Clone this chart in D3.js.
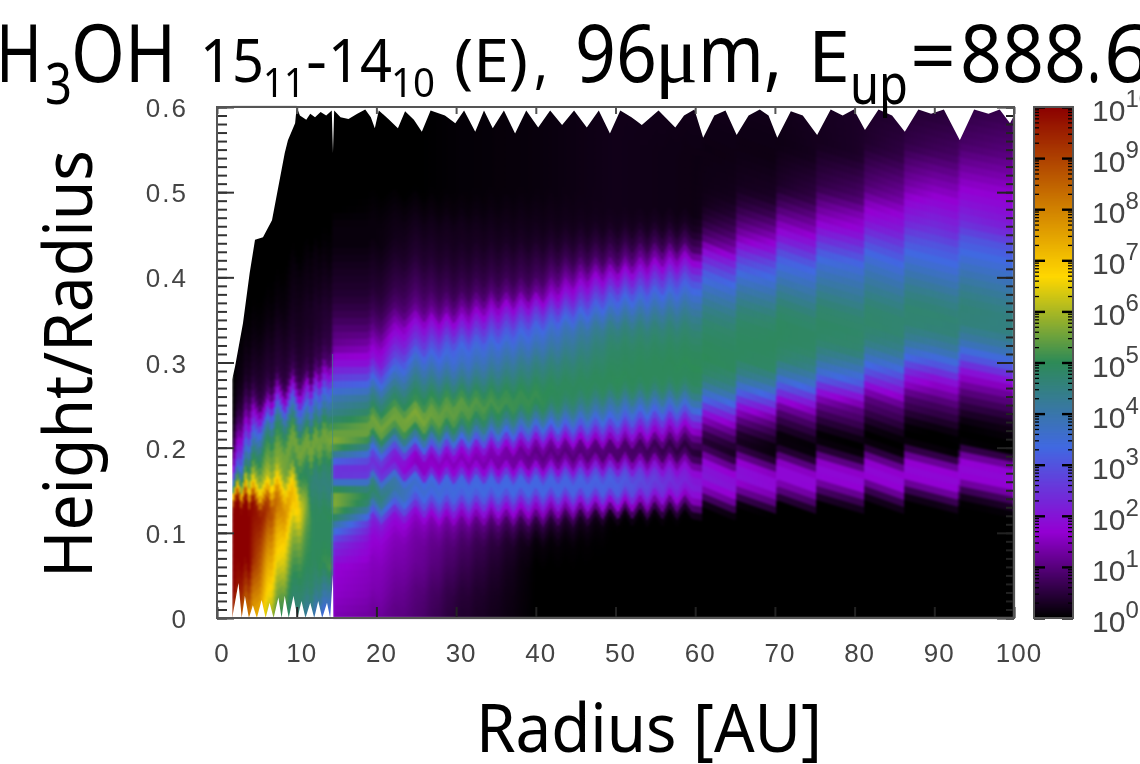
<!DOCTYPE html>
<html>
<head>
<meta charset="utf-8">
<script src="https://cdn.jsdelivr.net/npm/d3@7"></script>
<style>
  html, body { margin: 0; background: #fff; overflow: hidden; }
  #wrap { position: relative; width: 1140px; height: 764px; overflow: hidden; }
  #map, #chart { position: absolute; left: 0; top: 0; }
  #map { filter: blur(0.8px); }
  .tick-label { font-family: "Liberation Sans", sans-serif; fill: #444; }
  .big { font-family: "Noto Sans", sans-serif; fill: #000; }
</style>
</head>
<body>
<div id="wrap">
  <canvas id="map" width="1140" height="764"></canvas>
  <svg id="chart" width="1140" height="764"></svg>
</div>
<script>
// rows of every profile: height/radius
const heights = [0,.03,.06,.09,.11,.12,.13,.14,.15,.16,.17,.18,.19,.20,.21,.22,.23,.24,.25,.26,.27,.28,.30,.32,.34,.36,.38,.40,.42,.44,.46,.48,.50,.55,.60];

// log10 of the line emission at a few radii
const r2    = [9,10,10,10,10,10,9.8,8,5.2,3.6,2.2,1.4,.9,.6,.4,.2,.1,0,0,0,0,0,0,0,0,0,0,0,0,0,0,0,0,0,0];
const r4    = [8,9,10,10,10,10,9.9,8.2,6.7,5.9,5.2,4.7,4.1,3.4,2.7,2,1.5,1.1,.8,.6,.4,.3,.2,.1,.05,0,0,0,0,0,0,0,0,0,0];
const r6    = [6.5,7.2,7.8,8.6,9.2,9.4,9.1,7.8,6.7,6,5.7,5.4,5.2,4.9,4.4,3.8,2.7,1.8,1,.6,.5,.4,.3,.2,.1,.05,0,0,0,0,0,0,0,0,0];
const r8    = [5,5.6,6.4,7,7.6,7.9,8,7.6,6.9,6.3,5.8,5.6,5.6,5.3,5.1,4.8,4.4,3.4,2.4,1.5,.8,.5,.4,.3,.2,.1,.05,0,0,0,0,0,0,0,0];
const r10   = [4.6,4.8,5.2,5.8,6.5,6.8,6.9,6.5,5.9,5.4,5,5.3,5.6,5.5,5.1,4.4,3.9,3.2,2.2,1.4,.8,.6,.4,.3,.25,.2,.15,.1,0,0,0,0,0,0,0];
const r12   = [4,4.7,4.9,4.9,4.9,4.9,4.8,4.7,4.6,4.6,4.8,5.2,5.5,5.6,5.4,4.9,4.3,3.8,3.2,2.6,1.8,.8,.5,.4,.3,.3,.2,.15,.1,0,0,0,0,0,0];
const r14a  = [3,4,5.2,4.9,4.9,5,4.9,4.7,4.5,4.6,4.7,4.8,5.1,5.4,5.6,5.5,5.1,4.5,4.1,3.6,3.1,2.3,1,.6,.5,.4,.3,.2,.1,.05,0,0,0,0,0];
const r14b  = [1.4,1.6,1.7,2.5,4,5,5.6,5.8,5.4,3.7,2.3,2.6,3.8,5.2,5.7,5.4,5,4.5,4.2,3.9,3.4,2.8,1.9,1.2,.9,.6,.4,.3,.2,.1,.1,0,0,0,0];
const r20   = [1.2,1.4,1.5,1.7,2.1,3,4,4.8,4.6,3.7,2.4,2.4,3,4,5,5.6,5.5,5,4.6,4.2,3.6,3,1.9,1.4,.9,.6,.4,.3,.2,.1,.1,.05,0,0,0];
const r25   = [.9,1,1.2,1.3,1.5,1.8,2.6,3.2,3.6,3.4,2,1.3,1.9,3.3,4.2,5.2,5.7,5.6,5.1,4.9,4.6,4.3,3.6,2.6,1.9,1.1,.8,.6,.4,.3,.2,.1,0,0,0];
const r30   = [.4,.5,.7,.9,1.2,1.6,2.3,3.1,3.4,3.3,2.2,1.5,1.5,2.3,3.5,4.5,5.1,5.4,5.4,5.1,4.7,4.3,3.6,3.2,2.2,1.2,.7,.5,.35,.25,.2,.1,.05,.05,.05];
const r40   = [0,0,0,.1,.5,1.1,1.7,2.5,3.3,3.3,2.5,1.4,1,1.2,2,3,3.8,4.5,5,5.1,5,4.8,4.4,3.8,3.3,2.4,1.2,.7,.5,.3,.2,.15,.1,.1,.1];
const r50   = [0,0,0,0,0,.2,1.2,2.2,3.1,3.2,2.9,1.9,.9,.8,1.5,2.3,3,3.6,4,4.5,4.9,5,4.9,4.8,4.5,3.8,3,1.9,.9,.5,.25,.2,.2,.2,.2];
const r60   = [0,0,0,0,0,0,.3,1.2,1.8,2.1,2,1.7,.9,.4,.7,1.2,1.8,2.6,3.4,4,4.6,4.9,5,4.9,4.7,4.3,3.7,3,1.9,.8,.3,.15,.15,.15,.2];
const r70   = [0,0,0,0,0,0,0,.8,1.3,1.8,1.8,1.4,.5,.1,.1,.4,.7,1.1,1.8,2.6,3.3,4,4.8,4.9,4.9,4.7,4.2,3.6,3,2,1.3,.7,.3,.15,.2];
const r80   = [0,0,0,0,0,0,0,.4,1,1.7,1.8,1.5,.6,.1,0,.2,.5,.8,1,1.5,2.2,3,3.9,4.7,4.8,4.7,4.3,3.9,3.4,2.6,1.8,1.4,.8,.3,.3];
const r90   = [0,0,0,0,0,0,0,.3,1.1,1.7,1.8,1.6,.8,.1,0,0,.2,.5,.7,1,1.4,1.7,3,4,4.6,4.7,4.4,3.9,3.4,3,2.4,2,1.6,.7,.4];
const r100  = [0,0,0,0,0,0,.1,.5,1.2,1.7,1.8,1.7,.8,0,0,.1,.2,.4,.7,1,1.3,1.7,3,4,4.5,4.5,4.2,3.8,3.4,3,2.2,1.9,1.7,1,.6];
const profileRadii = [2,4,6,8,10,12,14.4,14.6,20,25,30,40,50,60,70,80,90,100];
const profiles = [r2,r4,r6,r8,r10,r12,r14a,r14b,r20,r25,r30,r40,r50,r60,r70,r80,r90,r100];

// the model grid is not square: each column sits a little higher or lower
const rippleRadii = [1.9,2.6,3.1,3.6,4,4.5,5.4,6.4,6.9,7.5,8.5,9.5,10.4,11.3,11.8,12.4,12.9,13.4,14,14.4,14.6,19,19.5,20.6,22.3,23.5,24.9,26,26.9,27.9,28.8,29.7,30.7,31.6,32.5,33.5,34.4,35.3,36.3,37.2,38.1,39.1,40,40.9,41.9,42.8,43.7,44.7,45.6,46.5,47.5,48.4,49.3,50.3,51.2,52.1,53.1,54,54.9,55.9,56.8,57.7,58.7,59.6,60.8,61,65,65.2,70.1,70.3,75.1,75.3,81.1,81.3,86.1,86.3,93,93.2,100];
const rippleShift = [-.004,.016,-.004,.018,-.004,.014,-.006,.014,-.004,.018,-.006,.024,-.004,.012,-.004,.014,-.004,.012,-.002,0,0,0,.012,-.004,.012,-.004,.01,-.006,.007,-.007,.007,-.007,.007,-.007,.007,-.007,.007,-.007,.007,-.007,.007,-.007,.007,-.007,.007,-.007,.007,-.007,.007,-.007,.007,-.007,.007,-.007,.007,-.007,.007,-.007,.007,-.007,.007,-.007,.006,-.006,-.008,.008,-.008,.008,-.008,.008,-.008,.008,-.008,.008,-.008,.008,-.008,.008,-.005];

// where the model stops: left edge, top jags, bottom jags
const leftR = [1.9,1.9,2.26,3.26,4.1,4.77,5.77,6.9,8.5,8.9,9.8,10];
const leftH = [0,.28,.295,.346,.405,.444,.447,.467,.546,.561,.581,.6];
const topR = [10,10.4,11.2,11.7,12.3,13,13.7,14.4,14.55,14.7,15.5,16.5,17.6,18.6,19.3,19.8,20.3,21.5,22.7,23.6,24.7,25.7,26.8,28.6,29.9,31,32.4,33.5,34.6,36,37.4,38.8,40.3,41.8,43.3,44.8,46.4,47.9,49.3,50.6,52,53.3,55.4,57.5,58.6,59.9,61,62.4,63.8,65.2,66.7,68.1,69.2,70.3,72,73.5,75.3,77,78.5,79.9,81.3,83,84.7,86.3,88,89.6,91.2,93.2,95,96.8,98.2,99.5,100];
const topH = [.6,.59,.585,.592,.588,.594,.59,.596,.546,.596,.588,.586,.592,.597,.588,.575,.596,.586,.575,.595,.585,.571,.596,.59,.581,.596,.571,.596,.575,.596,.569,.596,.576,.596,.579,.596,.576,.596,.569,.596,.588,.579,.596,.576,.59,.597,.564,.59,.596,.567,.59,.597,.59,.564,.595,.59,.567,.597,.59,.597,.573,.597,.59,.571,.597,.592,.597,.561,.597,.592,.597,.581,.59];
const bottomR = [1.9,2.7,3.1,3.5,4,4.5,5,5.6,6.1,6.6,7.1,7.7,8.1,8.5,9,9.6,10.1,10.6,11.1,11.7,12.2,12.7,13.2,13.8,14.2,14.55,14.6];
const bottomH = [0,.041,0,.026,0,.015,0,.021,0,.018,0,.024,0,.026,0,.026,0,.02,0,.018,0,.02,0,.018,0,.052,0];

// axes
const radiusTicks = [0,10,20,30,40,50,60,70,80,90,100];
const heightTicks = [0,.1,.2,.3,.4,.5,.6];
const heightMinor = d3.range(0, 61).map(i => i / 100);
const decades = [0,1,2,3,4,5,6,7,8,9,10];
const minorSteps = [2,3,4,5,6,7,8,9];

// palette in log10 units
const paletteStops = [0,1.67,3.33,5,6.67,10];
const paletteColors = ['#000000','#9400d3','#4169e1','#2e8b57','#ffd700','#8b0000'];

const margin = { left: 217, right: 1014, top: 107, bottom: 618 };
const bar = { left: 1034, right: 1073 };

const x = d3.scaleLinear().domain([0, 100]).range([margin.left, margin.right]);
const y = d3.scaleLinear().domain([0, .6]).range([margin.bottom, margin.top]);
const v = d3.scaleLinear().domain([0, 10]).range([margin.bottom, margin.top]);
const color = d3.scaleLinear().domain(paletteStops).range(paletteColors).clamp(true);
const ripple = d3.scaleLinear().domain(rippleRadii).range(rippleShift).clamp(true);
const rows = profiles.map(p => d3.scaleLinear().domain(heights).range(p).clamp(true));

function valueAt(r, h) {
  const i = Math.min(Math.max(d3.bisectRight(profileRadii, r), 1), profileRadii.length - 1);
  const t = Math.min(Math.max((r - profileRadii[i - 1]) / (profileRadii[i] - profileRadii[i - 1]), 0), 1);
  return rows[i - 1](h) * (1 - t) + rows[i](h) * t;
}

// heat map
const ctx = document.getElementById('map').getContext('2d');
ctx.save();
ctx.beginPath();
ctx.rect(margin.left, margin.top, margin.right - margin.left, margin.bottom - margin.top);
ctx.clip();
const colW = 2, rowH = 7;
const dh = y.invert(margin.bottom - rowH);
for (let px = x(1.9); px < margin.right; px += colW) {
  const r = x.invert(px + colW / 2);
  const s = ripple(r);
  for (let j = -5; j * dh < .66; j++) {
    const h = j * dh;
    ctx.fillStyle = color(valueAt(r, Math.min(Math.max(h + dh / 2, 0), .6)));
    ctx.fillRect(px, y(h + s + dh), colW + 1, rowH + 1);
  }
}
ctx.restore();

const svg = d3.select('#chart');

// white masks outside the model domain
const edge = d3.line().x(d => x(d[0])).y(d => y(d[1]));
const masks = svg.append('g').style('filter', 'blur(0.7px)').attr('fill', '#fff');
masks.append('path').attr('d', edge([[0, 0], ...leftR.map((r, i) => [r, leftH[i]]), [0, .6]]) + 'Z');
masks.append('path').attr('d', edge([[10, .605], ...topR.map((r, i) => [r, topH[i]]), [100, .605]]) + 'Z');
masks.append('path').attr('d', edge([[1.9, -.005], ...bottomR.map((r, i) => [r, bottomH[i]]), [14.6, -.005]]) + 'Z');

// thin ridge at the inner edge of the disc
svg.append('line')
  .attr('x1', x(14.5)).attr('x2', x(14.5))
  .attr('y1', y(.05)).attr('y2', y(.31))
  .attr('stroke', '#3f8a8a').attr('stroke-width', 1.2).attr('opacity', .6).style('filter', 'blur(0.5px)');

// colour bar
const bands = d3.range(0, 10, .02);
svg.append('g').selectAll('rect').data(bands).enter().append('rect')
  .attr('x', bar.left)
  .attr('width', bar.right - bar.left)
  .attr('y', d => v(d + .04))
  .attr('height', d => v(d) - v(d + .04))
  .attr('fill', d => color(d));

function styleAxis(g, stroke, width) {
  g.select('.domain').remove();
  g.selectAll('.tick line').attr('stroke', stroke).attr('stroke-width', width);
  g.selectAll('.tick text').remove();
}

const frame = svg.append('g').style('filter', 'blur(0.5px)');

// plot ticks, all drawn inward
frame.append('g').attr('transform', `translate(0,${margin.bottom})`)
  .call(d3.axisBottom(x).tickValues(radiusTicks).tickSize(-11)).call(styleAxis, '#222', 2);
frame.append('g').attr('transform', `translate(0,${margin.top})`)
  .call(d3.axisTop(x).tickValues(radiusTicks).tickSize(-7)).call(styleAxis, '#555', 2);
frame.append('g').attr('transform', `translate(${margin.left},0)`)
  .call(d3.axisLeft(y).tickValues(heightMinor).tickSize(-10)).call(styleAxis, '#333', 2);
frame.append('g').attr('transform', `translate(${margin.left},0)`)
  .call(d3.axisLeft(y).tickValues(heightTicks).tickSize(-17)).call(styleAxis, '#333', 2);
frame.append('g').attr('transform', `translate(${margin.right},0)`)
  .call(d3.axisRight(y).tickValues(heightMinor).tickSize(-8)).call(styleAxis, '#222', 2);
frame.append('g').attr('transform', `translate(${margin.right},0)`)
  .call(d3.axisRight(y).tickValues(heightTicks).tickSize(-17)).call(styleAxis, '#222', 2);
frame.append('rect')
  .attr('x', margin.left).attr('y', margin.top)
  .attr('width', margin.right - margin.left).attr('height', margin.bottom - margin.top)
  .attr('fill', 'none').attr('stroke', '#555').attr('stroke-width', 2);

// colour bar ticks, log spaced inside each decade
const barMinor = decades.slice(0, -1).flatMap(d => minorSteps.map(m => d + Math.log10(m)));
[[d3.axisLeft, bar.left], [d3.axisRight, bar.right]].forEach(([axis, pos]) => {
  frame.append('g').attr('transform', `translate(${pos},0)`)
    .call(axis(v).tickValues(barMinor).tickSize(-5)).call(styleAxis, '#000', 1.3);
  frame.append('g').attr('transform', `translate(${pos},0)`)
    .call(axis(v).tickValues(decades).tickSize(-11)).call(styleAxis, '#000', 2.4);
});
frame.append('rect')
  .attr('x', bar.left).attr('y', margin.top)
  .attr('width', bar.right - bar.left).attr('height', margin.bottom - margin.top)
  .attr('fill', 'none').attr('stroke', '#555').attr('stroke-width', 2);

// tick labels
const labels = svg.append('g').style('filter', 'blur(0.4px)');
labels.selectAll('.xl').data(radiusTicks).enter().append('text')
  .attr('class', 'tick-label').attr('text-anchor', 'middle')
  .attr('x', d => x(d) + 5).attr('y', 662)
  .style('font-size', '26px').style('letter-spacing', '1px')
  .text(d => d);
labels.selectAll('.yl').data(heightTicks).enter().append('text')
  .attr('class', 'tick-label').attr('text-anchor', 'end')
  .attr('x', 188).attr('y', d => y(d) + 10)
  .style('font-size', '26px').style('letter-spacing', '2px')
  .text(d => d);
const barLabels = labels.selectAll('.cl').data(decades).enter().append('text')
  .attr('class', 'tick-label').attr('x', 1092).attr('y', d => v(d) + 14)
  .style('font-size', '30px');
barLabels.append('tspan').text('10');
barLabels.append('tspan').attr('dy', -14).style('font-size', '24px').text(d => d);

// title pieces: text, left edge, width, baseline, size
const titlePieces = [
  ['H', -4, 46, 82, 80], ['3', 45, 27, 104, 56], ['OH', 71, 105, 82, 80],
  ['15', 200, 64, 82, 60], ['11', 263, 42, 97, 40], ['-', 306, 21, 82, 60],
  ['14', 328, 64, 82, 60], ['10', 391, 44, 97, 40], ['(E)', 454, 74, 82, 60], [',', 534, 14, 82, 60],
  ['96', 575, 82, 82, 80], ['m', 698, 66, 82, 80], [',', 764, 18, 82, 80],
  ['E', 808, 42, 82, 72], ['up', 850, 58, 104, 56], ['=', 910, 46, 82, 74],
  ['888', 960, 126, 82, 80], ['.', 1087, 14, 82, 80], ['6', 1104, 46, 82, 80]
];
svg.append('g').selectAll('text').data(titlePieces).enter().append('text')
  .attr('class', 'big')
  .attr('x', d => d[1]).attr('y', d => d[3])
  .attr('textLength', d => d[2]).attr('lengthAdjust', 'spacingAndGlyphs')
  .style('font-size', d => d[4] + 'px')
  .text(d => d[0]);
svg.append('text')
  .attr('x', 655).attr('y', 82)
  .style('font-family', '"Liberation Serif", serif').style('font-size', '80px')
  .text('\u03bc');

// axis titles
svg.append('text').attr('class', 'big')
  .attr('x', 476).attr('y', 752)
  .attr('textLength', 346).attr('lengthAdjust', 'spacingAndGlyphs')
  .style('font-size', '68px')
  .text('Radius [AU]');
svg.append('text').attr('class', 'big')
  .attr('transform', 'translate(92,578) rotate(-90)')
  .attr('textLength', 428).attr('lengthAdjust', 'spacingAndGlyphs')
  .style('font-size', '68px')
  .text('Height/Radius');
</script>
</body>
</html>
